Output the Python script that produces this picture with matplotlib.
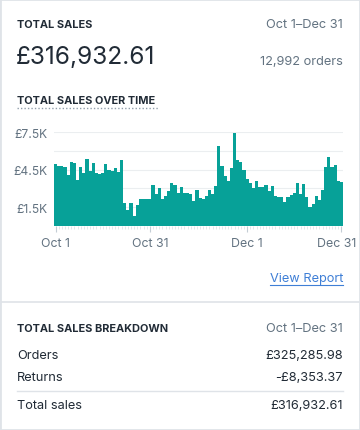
import numpy as np
import matplotlib.pyplot as plt
from matplotlib.lines import Line2D
from matplotlib.patches import Rectangle
from matplotlib.transforms import ScaledTranslation

# daily total sales, Oct 1 - Dec 31 (in GBP)
sales = [4980, 4820, 4770, 4690, 4050, 5120, 5060, 3640, 4710, 4230,
         5380, 4370, 5040, 4230, 4120, 4230, 4960, 4450, 4390, 4630,
         4310, 5300, 1840, 1300, 1840, 770, 1680, 2180, 2180, 2130,
         2180, 3240, 2530, 3030, 2180, 2370, 2790, 3460, 3300, 2660,
         3090, 2610, 2610, 2550, 2020, 2870, 2230, 2150, 2420, 2870,
         2550, 3170, 6380, 4810, 3960, 3620, 4600, 7420, 5270, 5130,
         4470, 3750, 3430, 3010, 3560, 3090, 3090, 3300, 2770, 3170,
         2420, 2340, 2340, 1890, 2290, 2470, 2630, 3400, 2550, 3350,
         2340, 1490, 1760, 2370, 2070, 2870, 4680, 5480, 4680, 4870,
         3560, 3510]
x_ticks = [0, 30, 61, 91]
x_labels = ['Oct 1', 'Oct 31', 'Dec 1', 'Dec 31']
y_grid = [0, 1500, 3000, 4500, 6000, 7500]
y_labels = ['', '£1.5K', '', '£4.5K', '', '£7.5K']

total_sales = '£316,932.61'
date_range = 'Oct 1–Dec 31'
orders_count = '12,992 orders'
breakdown_rows = ['Orders', 'Returns', 'Total sales']
breakdown_vals = ['£325,285.98', '-£8,353.37', '£316,932.61']

W, H = 360, 431
dark = '#212b36'
grey = '#637381'
teal = '#07a198'
fs = 9.2      # body text
hs = 7.9      # bold headings

plt.rcParams['font.family'] = ['Inter', 'DejaVu Sans']

fig = plt.figure(figsize=(W / 100, H / 100), dpi=100)
fig.patch.set_facecolor('white')


def fy(y):
    return 1 - y / H


def fx(x):
    return x / W


def txt(x, y, s, **kw):
    fig.text(fx(x), fy(y), s, va='center', **kw)


# card borders
fig.add_artist(Rectangle((0, 0), 1, 1, transform=fig.transFigure,
                         fill=False, edgecolor='#dfe3e8', linewidth=2))
fig.add_artist(Line2D([0, 1], [fy(303), fy(303)], transform=fig.transFigure,
                      color='#dfe3e8', linewidth=1.2))

# header
txt(17, 25, 'TOTAL SALES', fontsize=hs, fontweight='bold', color=dark)
txt(343, 25, date_range, fontsize=fs, color=grey, ha='right')
txt(16, 57, total_sales, fontsize=17.6, color=dark)
txt(343, 62, orders_count, fontsize=fs, color=grey, ha='right')
txt(17, 101, 'TOTAL SALES OVER TIME', fontsize=hs, fontweight='bold', color=dark)
fig.add_artist(Line2D([fx(17), fx(158)], [fy(108.5), fy(108.5)],
                      transform=fig.transFigure, color='#919eab',
                      linewidth=1, linestyle=(0, (1, 1.5))))

# chart
ax = fig.add_axes([fx(54), fy(227), fx(343) - fx(54), (227 - 133) / H])
days = np.arange(len(sales))
ax.bar(days, sales, width=1.0, color=teal, linewidth=0, zorder=2)
ax.set_xlim(-0.5, len(sales) - 0.5)
ax.set_ylim(0, 7500)
ax.set_yticks(y_grid)
ax.set_yticklabels(y_labels)
ax.grid(axis='y', color='#ebeef0', linewidth=0.8, zorder=0)
ax.set_xticks(x_ticks)
ax.set_xticklabels(x_labels)
ax.set_xticks(days, minor=True)
ax.tick_params(axis='y', length=0, labelsize=8.7, labelcolor=grey, pad=5)
ax.tick_params(axis='x', which='major', length=4, color='#c4cdd5',
               labelsize=8.9, labelcolor=grey, pad=4)
ax.tick_params(axis='x', which='minor', length=2, color='#dfe3e8')
last = ax.get_xticklabels()[-1]
last.set_transform(last.get_transform() + ScaledTranslation(-5 / 100, 0, fig.dpi_scale_trans))
for s in ax.spines.values():
    s.set_visible(False)
ax.set_facecolor('none')

# view report link
txt(343, 279, 'View Report', fontsize=fs, color='#3f7fd6', ha='right')
fig.add_artist(Line2D([fx(270), fx(343)], [fy(286), fy(286)],
                      transform=fig.transFigure, color='#3f7fd6', linewidth=0.8))

# breakdown
txt(17, 329, 'TOTAL SALES BREAKDOWN', fontsize=hs, fontweight='bold', color=dark)
txt(343, 329, date_range, fontsize=fs, color=grey, ha='right')
row_y = [356, 378, 406]
for name, val, y in zip(breakdown_rows, breakdown_vals, row_y):
    txt(17, y, name, fontsize=fs, color=dark)
    txt(343, y, val, fontsize=fs, color=dark, ha='right')
fig.add_artist(Line2D([fx(17), fx(343)], [fy(392), fy(392)],
                      transform=fig.transFigure, color='#dfe3e8', linewidth=1))

fig.savefig('out.png', dpi=100)
